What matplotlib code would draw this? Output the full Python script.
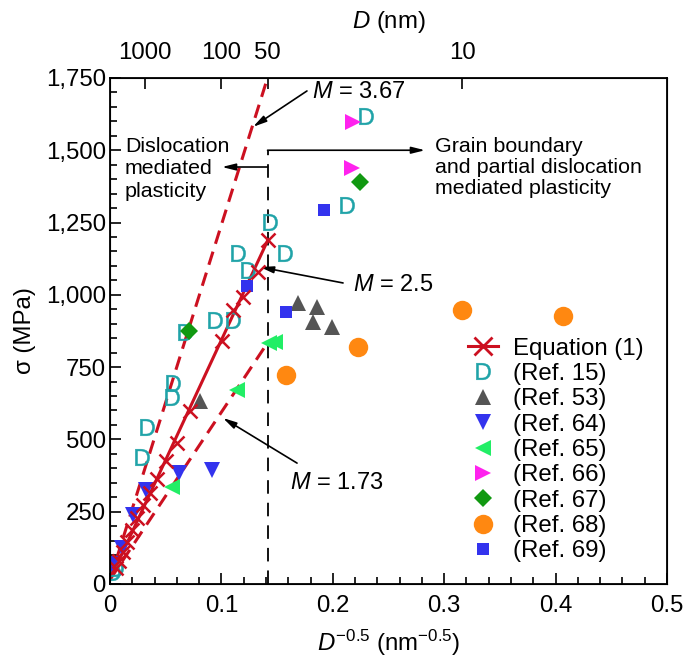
import matplotlib
matplotlib.use("Agg")
import matplotlib.pyplot as plt
from matplotlib.ticker import MultipleLocator, FuncFormatter
from matplotlib.lines import Line2D

plt.rcParams['font.family'] = ['Liberation Sans', 'DejaVu Sans']
plt.rcParams['mathtext.fontset'] = 'custom'
plt.rcParams['mathtext.rm'] = 'Liberation Sans'
plt.rcParams['mathtext.it'] = 'Liberation Sans:italic'
plt.rcParams['mathtext.bf'] = 'Liberation Sans:bold'

# ---------------- data ----------------
# Equation (1) points (D^-0.5, sigma)
eq_x = [0.0054, 0.0081, 0.0117, 0.0153, 0.0197, 0.0242, 0.0296, 0.0359, 0.0422,
        0.0503, 0.0601, 0.0718, 0.1005, 0.1104, 0.1194, 0.1329, 0.1418]
eq_y = [55, 80, 111, 145, 187, 228, 273, 315, 363,
        425, 488, 598, 841, 948, 993, 1079, 1190]

ref15_x = [0.003, 0.005, 0.0287, 0.033, 0.0557, 0.0566, 0.067, 0.094, 0.110,
           0.124, 0.115, 0.157, 0.1436, 0.2127, 0.230]
ref15_y = [40, 55, 439, 543, 647, 695, 872, 913, 913,
           1086, 1145, 1145, 1252, 1311, 1619]

ref53_x = [0.0808, 0.1688, 0.1858, 0.1822, 0.1993]
ref53_y = [633, 972, 958, 906, 889]

ref64_x = [0.002, 0.011, 0.021, 0.032, 0.062, 0.092]
ref64_y = [70, 125, 240, 325, 385, 395]

ref65_x = [0.0556, 0.114, 0.143, 0.148]
ref65_y = [336, 671, 835, 838]

ref66_x = [0.217, 0.218]
ref66_y = [1438, 1599]

ref67_x = [0.071, 0.2244]
ref67_y = [875, 1390]

ref68_x = [0.158, 0.2226, 0.316, 0.4067]
ref68_y = [723, 820, 948, 927]

ref69_x = [0.123, 0.158, 0.192]
ref69_y = [1031, 941, 1294]

# Taylor-factor lines (endpoints)
line_x = [0.0, 0.1414]
m367_y = [15, 1750]
m25_x = [0.0, 0.1418]
m25_y = [15, 1190]
m173_y = [15, 834]

top_D = [1000, 100, 50, 10]
D_boundary = 50

# ---------------- figure ----------------
fig = plt.figure(figsize=(6.85, 6.72), dpi=100)
ax = fig.add_axes([0.1606, 0.1310, 0.8131, 0.7530])

red = '#cc1020'
ax.plot(line_x, m367_y, color=red, lw=2.2, ls=(0, (4.5, 2.7)), zorder=2)
ax.plot(line_x, m173_y, color=red, lw=2.2, ls=(0, (4.5, 2.7)), zorder=2)
ax.plot(m25_x, m25_y, color=red, lw=2.2, zorder=2)

xb = D_boundary ** -0.5
ax.plot([xb, xb], [0, 1500], color='black', lw=1.3, ls=(0, (7.5, 5)), zorder=1)

ax.plot(ref15_x, ref15_y, ls='none', marker=r'$\mathrm{D}$', ms=12, mew=0.3,
        color='#1fa3a8', label='(Ref. 15)', zorder=3)
ax.plot(ref53_x, ref53_y, ls='none', marker='^', ms=11, mew=0,
        color='#555555', label='(Ref. 53)', zorder=3)
ax.plot(ref64_x, ref64_y, ls='none', marker='v', ms=11, mew=0,
        color='#3333ee', label='(Ref. 64)', zorder=3)
ax.plot(ref65_x, ref65_y, ls='none', marker='<', ms=11, mew=0,
        color='#22ee66', label='(Ref. 65)', zorder=3)
ax.plot(ref66_x, ref66_y, ls='none', marker='>', ms=11, mew=0,
        color='#ff22ee', label='(Ref. 66)', zorder=3)
ax.plot(ref67_x, ref67_y, ls='none', marker='D', ms=9, mew=0,
        color='#119911', label='(Ref. 67)', zorder=3)
ax.plot(ref68_x, ref68_y, ls='none', marker='o', ms=14, mew=0,
        color='#ff8811', label='(Ref. 68)', zorder=3)
ax.plot(ref69_x, ref69_y, ls='none', marker='s', ms=9, mew=0,
        color='#3333ee', label='(Ref. 69)', zorder=3)
ax.plot(eq_x, eq_y, ls='none', marker='x', ms=10, mew=1.8, color=red, zorder=4)

eq_handle = Line2D([], [], color=red, lw=2.2, marker='x', ms=13, mew=2)
handles, labels = ax.get_legend_handles_labels()
handles = [eq_handle] + handles
labels = ['Equation (1)'] + labels
ax.legend(handles, labels, loc='upper left', bbox_to_anchor=(0.643, 0.487),
          frameon=False, fontsize=17.3, borderpad=0, borderaxespad=0,
          handlelength=1.25, handletextpad=0.6, labelspacing=0.14,
          numpoints=1)

# axes limits and ticks
ax.set_xlim(0, 0.5)
ax.set_ylim(0, 1750)
ax.xaxis.set_major_locator(MultipleLocator(0.1))
ax.xaxis.set_minor_locator(MultipleLocator(0.02))
ax.yaxis.set_major_locator(MultipleLocator(250))
ax.yaxis.set_minor_locator(MultipleLocator(50))
ax.xaxis.set_major_formatter(FuncFormatter(lambda v, p: '0' if abs(v) < 1e-9 else f'{v:.1f}'))
ax.yaxis.set_major_formatter(FuncFormatter(lambda v, p: f'{int(round(v)):,}'))
ax.tick_params(which='both', direction='in', top=False, right=False,
               labelsize=17.3, width=1.2)
ax.tick_params(which='major', length=8)
ax.tick_params(which='minor', length=5)
ax.tick_params(axis='x', pad=8)
ax.tick_params(axis='y', pad=3)
for s in ax.spines.values():
    s.set_linewidth(1.3)

ax.set_xlabel(r'$D^{-0.5}$ (nm$^{-0.5}$)', fontsize=17.3, labelpad=8)
ax.set_ylabel('σ (MPa)', fontsize=17.3, labelpad=7)

# top axis
ax2 = ax.twiny()
ax2.set_xlim(ax.get_xlim())
ax2.set_xticks([d ** -0.5 for d in top_D])
ax2.set_xticklabels([str(d) for d in top_D])
ax2.tick_params(direction='in', length=8, width=1.2, labelsize=17.3, pad=10)
ax2.set_xlabel(r'$D$ (nm)', fontsize=17.3, labelpad=10)

# annotations
ann_fs = 15.4
m_fs = 17.0
ax.text(0.0135, 1546, 'Dislocation\nmediated\nplasticity', fontsize=ann_fs,
        ha='left', va='top', linespacing=1.22)
ax.text(0.2917, 1546, 'Grain boundary\nand partial dislocation\nmediated plasticity',
        fontsize=ann_fs, ha='left', va='top', linespacing=1.12)

arrow = dict(arrowstyle='-|>,head_length=0.8,head_width=0.2', color='black',
             lw=1.2, shrinkA=0, shrinkB=0)
ax.annotate('', xy=(0.2828, 1500), xytext=(xb, 1500), arrowprops=arrow)
ax.annotate('', xy=(0.1005, 1442), xytext=(xb, 1442), arrowprops=arrow)

ax.annotate('', xy=(0.1284, 1581), xytext=(0.1768, 1705), arrowprops=arrow)
ax.text(0.1813, 1702, r'$M$ = 3.67', fontsize=m_fs, ha='left', va='center')
ax.annotate('', xy=(0.1346, 1096), xytext=(0.2092, 1041), arrowprops=arrow)
ax.text(0.218, 1034, r'$M$ = 2.5', fontsize=m_fs, ha='left', va='center')
ax.annotate('', xy=(0.1014, 574), xytext=(0.1679, 418), arrowprops=arrow)
ax.text(0.1616, 349, r'$M$ = 1.73', fontsize=m_fs, ha='left', va='center')

fig.savefig('out.png', dpi=100)
